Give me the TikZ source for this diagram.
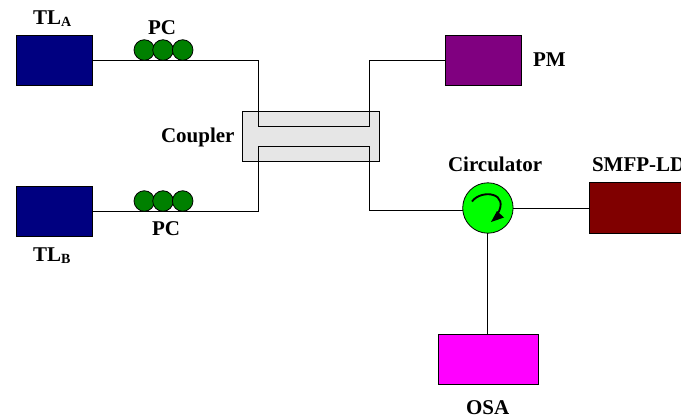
\documentclass[tikz,border=0pt]{standalone}
\usepackage{fontspec}
\setmainfont{Liberation Serif}
\usetikzlibrary{arrows.meta}
\definecolor{tlblue}{HTML}{000080}
\definecolor{pmpurple}{HTML}{800080}
\definecolor{ldred}{HTML}{800000}
\definecolor{osamag}{HTML}{FF00FF}
\definecolor{circgreen}{HTML}{00FF00}
\definecolor{pcgreen}{HTML}{008000}
\definecolor{cplgray}{HTML}{E6E6E6}
\newcommand{\subs}[1]{\raisebox{-0.2ex}{\fontsize{10.5pt}{12pt}\selectfont #1}}
\tikzset{
  devbox/.style={draw=black,line width=0.6pt,inner sep=0pt,outer sep=0pt,minimum width=57pt,minimum height=37.5pt},
  pcball/.style={circle,draw=black,line width=0.6pt,fill=pcgreen,inner sep=0pt,outer sep=0pt,minimum size=15.4pt},
  fibre/.style={draw=black,line width=0.75pt},
  lab/.style={font=\bfseries\fontsize{15.75pt}{18pt}\selectfont,inner sep=0pt,outer sep=0pt,anchor=base west}
}
\begin{document}
\begin{tikzpicture}[x=0.75pt,y=-0.75pt]
\useasboundingbox (0,0) rectangle (681,419);
\clip (0,0) rectangle (681,419);
\fill[white] (0,0) rectangle (681,419);
% coupler body
\node[draw=black,line width=0.6pt,fill=cplgray,inner sep=0pt,outer sep=0pt,minimum width=102.75pt,minimum height=37.5pt] (cpl) at (311.3,136) {};
% devices
\node[devbox,fill=tlblue] (tla) at (54,60) {};
\node[devbox,fill=tlblue] (tlb) at (54,211) {};
\node[devbox,fill=pmpurple] (pm) at (482.9,60) {};
\node[devbox,fill=ldred,minimum width=84pt,minimum height=38.25pt] (ld) at (644.9,207.6) {};
\node[devbox,fill=osamag,minimum width=75pt] (osa) at (487.9,359) {};
\node[circle,draw=black,line width=0.6pt,fill=circgreen,inner sep=0pt,outer sep=0pt,minimum size=37.8pt] (circ) at (487.9,208) {};
% coupler waveguide corners
\coordinate (ul) at (258,126);
\coordinate (ur) at (369,126);
\coordinate (ll) at (258,146);
\coordinate (lr) at (369,146);
% connectors
\draw[fibre] (tla.east) -| (ul) -- (ur) |- (pm.west);
\draw[fibre] (tlb.east) -| (ll) -- (lr) |- (circ.186);
\draw[fibre] (circ.east) -- (ld.west |- circ.east);
\draw[fibre] (circ.south) -- (osa.north);
% polarisation controllers
\node[pcball] (pa1) at (144.3,50) {};
\node[pcball] (pa2) at (163,50) {};
\node[pcball] (pa3) at (182.7,50) {};
\node[pcball] (pb1) at (144.3,201) {};
\node[pcball] (pb2) at (163,201) {};
\node[pcball] (pb3) at (182.7,201) {};
% circulator arrow
\coordinate (as) at (472,201.5);
\coordinate (ae) at (497,215);
\draw[black,line width=1.4pt] (as) .. controls (481,189) and (511,192) .. (ae);
\fill[black] (491,222) -- (504,217.5) -- (497,211) -- cycle;
% labels
\node[lab] (ltla) at (33,24.6) {TL\subs{A}};
\node[lab] (lpca) at (148,34.6) {PC};
\node[lab] (lpm) at (533,66.6) {PM};
\node[lab] (lcpl) at (161,142.6) {Coupler};
\node[lab] (lcirc) at (448,171.6) {Circulator};
\node[lab] (lld) at (592,171.6) {SMFP-LD};
\node[lab] (lpcb) at (152,235.6) {PC};
\node[lab] (ltlb) at (33,261.6) {TL\subs{B}};
\node[lab] (losa) at (466,414.6) {OSA};
\end{tikzpicture}
\end{document}
